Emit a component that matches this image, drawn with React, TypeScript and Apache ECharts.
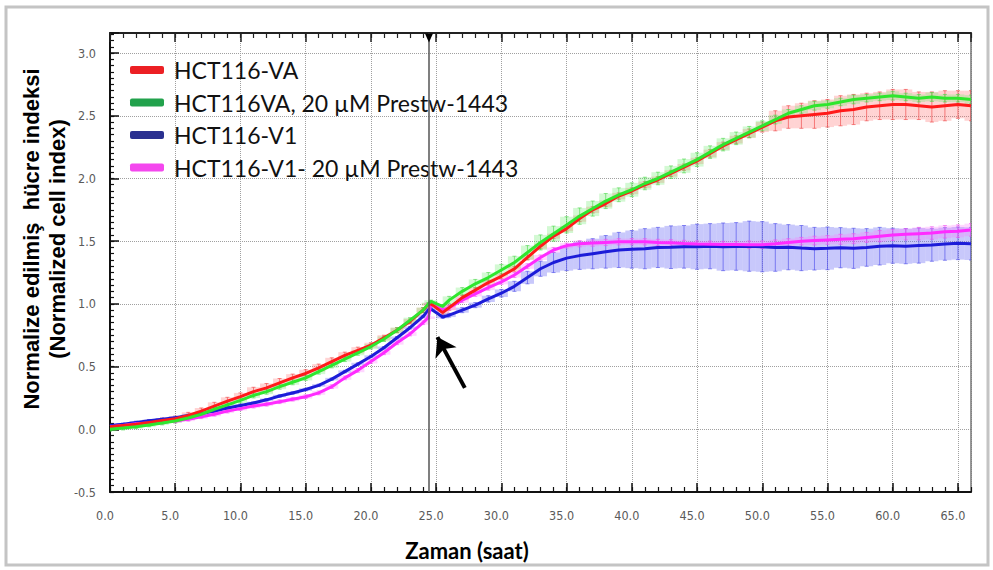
import React, { useEffect, useRef } from "react";
import * as echarts from "echarts";

// Time points (hours)
const TIMES = [
  0, 1, 2, 3, 4, 5, 6, 7, 8, 9,
  10, 11, 12, 13, 14, 15, 16, 17, 18, 19,
  20, 21, 22, 23, 24,
  24.4, 24.6, 25.5,
  26, 27, 28, 29, 30, 31, 32, 33, 34, 35,
  36, 37, 38, 39, 40, 41, 42, 43, 44, 45,
  46, 47, 48, 49, 50, 51, 52, 53, 54, 55,
  56, 57, 58, 59, 60, 61, 62, 63, 64, 65, 66,
];

// HCT116-VA (red)
const VA = [
  0.02, 0.03, 0.04, 0.055, 0.07, 0.085, 0.11, 0.145, 0.185, 0.225,
  0.26, 0.3, 0.33, 0.37, 0.41, 0.445, 0.49, 0.54, 0.59, 0.63,
  0.67, 0.73, 0.79, 0.86, 0.95,
  0.995, 1.0, 0.93,
  0.97, 1.05, 1.11, 1.17, 1.22, 1.28, 1.37, 1.46, 1.54, 1.6,
  1.68, 1.75, 1.8, 1.86, 1.9, 1.95, 1.99, 2.04, 2.09, 2.14,
  2.2, 2.26, 2.31, 2.36, 2.41, 2.46, 2.49, 2.5, 2.51, 2.52,
  2.54, 2.55, 2.57, 2.58, 2.59, 2.59, 2.58, 2.57, 2.58, 2.59, 2.58,
];
// HCT116VA, 20 µM Prestw-1443 (green)
const VA_DRUG = [
  0.0, 0.01, 0.02, 0.035, 0.05, 0.066, 0.09, 0.12, 0.16, 0.195,
  0.23, 0.27, 0.3, 0.34, 0.375, 0.41, 0.46, 0.51, 0.56, 0.61,
  0.66, 0.72, 0.79, 0.87, 0.95,
  1.0, 1.02, 0.98,
  1.03, 1.1, 1.16, 1.21, 1.27, 1.33, 1.41, 1.49, 1.56, 1.63,
  1.7, 1.76, 1.82, 1.87, 1.91, 1.96, 2.0, 2.05, 2.1, 2.15,
  2.21, 2.27, 2.32, 2.37, 2.42, 2.47, 2.52, 2.55, 2.58, 2.59,
  2.61, 2.63, 2.64, 2.65, 2.66, 2.65, 2.64, 2.65, 2.64, 2.64, 2.63,
];
// HCT116-V1 (blue)
const V1 = [
  0.03, 0.04, 0.055, 0.068, 0.08, 0.093, 0.11, 0.125, 0.145, 0.17,
  0.19, 0.21, 0.235, 0.265, 0.29, 0.317, 0.35, 0.4, 0.46, 0.52,
  0.58, 0.65, 0.73, 0.81, 0.9,
  0.95, 0.96, 0.895,
  0.91, 0.95, 0.99, 1.04, 1.085, 1.14, 1.21, 1.28, 1.33, 1.365,
  1.385, 1.4, 1.415, 1.43, 1.435, 1.44, 1.45, 1.452, 1.455, 1.456,
  1.46, 1.455, 1.458, 1.46, 1.456, 1.45, 1.452, 1.445, 1.44, 1.443,
  1.448, 1.443, 1.45, 1.46, 1.464, 1.46, 1.465, 1.47, 1.478, 1.483, 1.48,
];
// HCT116-V1- 20 µM Prestw-1443 (magenta)
const V1_DRUG = [
  0.02, 0.03, 0.045, 0.05, 0.058, 0.066, 0.08, 0.1, 0.12, 0.145,
  0.165, 0.185, 0.2, 0.22, 0.24, 0.26, 0.29, 0.34, 0.41, 0.47,
  0.54, 0.61, 0.69, 0.76, 0.85,
  0.89, 1.0, 0.95,
  0.97, 1.03, 1.08, 1.13, 1.176, 1.23, 1.3, 1.37, 1.43, 1.465,
  1.48, 1.485, 1.49, 1.495, 1.496, 1.495, 1.49, 1.487, 1.482, 1.478,
  1.476, 1.474, 1.473, 1.472, 1.472, 1.48, 1.49, 1.5, 1.505, 1.51,
  1.515, 1.52, 1.53, 1.54, 1.55, 1.555, 1.56, 1.565, 1.575, 1.58, 1.59,
];

// Error bar half-widths
const VA_ERR = [
  0.015, 0.015, 0.015, 0.02, 0.02, 0.02, 0.025, 0.025, 0.03, 0.03,
  0.03, 0.035, 0.035, 0.035, 0.03, 0.03, 0.03, 0.03, 0.025, 0.025,
  0.02, 0.02, 0.02, 0.02, 0.02,
  0.01, 0.01, 0.015,
  0.02, 0.02, 0.02, 0.02, 0.02, 0.02, 0.02, 0.02, 0.02, 0.02,
  0.025, 0.025, 0.025, 0.025, 0.025, 0.025, 0.025, 0.025, 0.025, 0.025,
  0.03, 0.03, 0.03, 0.035, 0.04, 0.08, 0.09, 0.1, 0.11, 0.11,
  0.12, 0.12, 0.11, 0.11, 0.12, 0.12, 0.11, 0.12, 0.12, 0.11, 0.12,
];
const VA_DRUG_ERR = [
  0.015, 0.015, 0.015, 0.015, 0.015, 0.015, 0.015, 0.015, 0.015, 0.015,
  0.02, 0.02, 0.02, 0.02, 0.02, 0.02, 0.02, 0.02, 0.02, 0.02,
  0.02, 0.02, 0.02, 0.02, 0.02,
  0.01, 0.01, 0.015,
  0.03, 0.03, 0.035, 0.04, 0.045, 0.05, 0.055, 0.06, 0.06, 0.065,
  0.065, 0.06, 0.06, 0.055, 0.055, 0.05, 0.05, 0.05, 0.055, 0.055,
  0.05, 0.05, 0.05, 0.045, 0.04, 0.035, 0.03, 0.03, 0.035, 0.03,
  0.03, 0.035, 0.03, 0.03, 0.035, 0.03, 0.03, 0.035, 0.03, 0.03, 0.035,
];
const V1_ERR = [
  0.01, 0.01, 0.01, 0.01, 0.01, 0.01, 0.01, 0.01, 0.01, 0.01,
  0.01, 0.01, 0.01, 0.01, 0.01, 0.01, 0.01, 0.01, 0.01, 0.01,
  0.01, 0.01, 0.01, 0.01, 0.01,
  0.01, 0.01, 0.01,
  0.015, 0.02, 0.02, 0.025, 0.03, 0.04, 0.05, 0.06, 0.08, 0.1,
  0.11, 0.12, 0.13, 0.14, 0.15, 0.16, 0.16, 0.17, 0.17, 0.18,
  0.18, 0.19, 0.19, 0.2, 0.2, 0.19, 0.18, 0.18, 0.17, 0.17,
  0.16, 0.16, 0.15, 0.15, 0.14, 0.14, 0.14, 0.13, 0.13, 0.13, 0.13,
];
const V1_DRUG_ERR = [
  0.015, 0.015, 0.015, 0.015, 0.015, 0.015, 0.015, 0.015, 0.015, 0.015,
  0.015, 0.015, 0.015, 0.015, 0.015, 0.015, 0.015, 0.015, 0.015, 0.015,
  0.015, 0.015, 0.015, 0.015, 0.015,
  0.01, 0.01, 0.015,
  0.02, 0.02, 0.02, 0.02, 0.02, 0.02, 0.02, 0.02, 0.02, 0.02,
  0.025, 0.025, 0.025, 0.025, 0.025, 0.025, 0.025, 0.025, 0.025, 0.025,
  0.025, 0.025, 0.025, 0.03, 0.03, 0.03, 0.03, 0.03, 0.035, 0.035,
  0.04, 0.04, 0.04, 0.045, 0.045, 0.045, 0.05, 0.05, 0.05, 0.05, 0.05,
];

const SERIES_NAMES = [
  "HCT116-VA",
  "HCT116VA, 20 µM Prestw-1443",
  "HCT116-V1",
  "HCT116-V1- 20 µM Prestw-1443",
];
const SERIES_VALUES = [VA, VA_DRUG, V1, V1_DRUG];
const SERIES_ERRS = [VA_ERR, VA_DRUG_ERR, V1_ERR, V1_DRUG_ERR];
const LINE_COLORS = ["#ff1a1a", "#2ee62e", "#1c1cd8", "#ff2bff"];
const LEGEND_COLORS = ["#ec2024", "#22a24c", "#2a3090", "#f447ee"];
const ERR_FILL = [
  "rgba(255,110,110,0.30)",
  "rgba(110,235,110,0.30)",
  "rgba(110,110,245,0.38)",
  "rgba(255,120,255,0.30)",
];
const ERR_STROKE = [
  "rgba(240,70,70,0.65)",
  "rgba(70,215,70,0.6)",
  "rgba(80,80,235,0.65)",
  "rgba(240,80,240,0.6)",
];

const VLINE_TIME = 24.45;
const ARROW_FROM = [27.2, 0.33];
const ARROW_TO = [25.1, 0.735];

const TICK_FONT = "'Liberation Sans Narrow', 'DejaVu Sans Condensed', 'Liberation Sans', sans-serif";

function isMultiple(v: number, step: number) {
  return Math.abs(v / step - Math.round(v / step)) < 1e-6;
}

function makeErrSeries(idx: number) {
  const values = SERIES_VALUES[idx];
  const errs = SERIES_ERRS[idx];
  const fill = ERR_FILL[idx];
  const stroke = ERR_STROKE[idx];
  return {
    type: "custom",
    silent: true,
    clip: true,
    z: 2,
    xAxisIndex: 0,
    yAxisIndex: 0,
    data: TIMES.map((t, i) => [t, values[i], errs[i]]),
    encode: { x: 0, y: 1 },
    renderItem: (params: any, api: any) => {
      const t = api.value(0);
      const v = api.value(1);
      const e = api.value(2);
      const top = api.coord([t, v + e]);
      const bot = api.coord([t, v - e]);
      const w = api.size([1, 0])[0];
      return {
        type: "group",
        children: [
          {
            type: "rect",
            shape: { x: top[0] - w / 2, y: top[1], width: w, height: bot[1] - top[1] },
            style: { fill },
          },
          {
            type: "line",
            shape: { x1: top[0], y1: top[1], x2: top[0], y2: bot[1] },
            style: { stroke, lineWidth: 1 },
          },
          {
            type: "line",
            shape: { x1: top[0] - 2, y1: top[1], x2: top[0] + 2, y2: top[1] },
            style: { stroke, lineWidth: 1 },
          },
          {
            type: "line",
            shape: { x1: top[0] - 2, y1: bot[1], x2: top[0] + 2, y2: bot[1] },
            style: { stroke, lineWidth: 1 },
          },
        ],
      };
    },
  };
}

function makeLineSeries(idx: number, extra: any = {}) {
  const values = SERIES_VALUES[idx];
  return {
    type: "line",
    name: SERIES_NAMES[idx],
    xAxisIndex: 0,
    yAxisIndex: 0,
    data: TIMES.map((t, i) => [t, values[i]]),
    showSymbol: false,
    symbol: "none",
    z: 3,
    lineStyle: { color: LINE_COLORS[idx], width: 3 },
    itemStyle: { color: LINE_COLORS[idx] },
    ...extra,
  };
}

export default function App() {
  const ref = useRef<HTMLDivElement>(null);

  useEffect(() => {
    if (!ref.current) return;
    const chart = echarts.init(ref.current, undefined, { renderer: "svg" });

    const gridSplit = { show: true, lineStyle: { color: "#a0a0a0", type: "dotted", width: 1 } };

    const option: any = {
      animation: false,
      backgroundColor: "#ffffff",
      grid: { left: 110, right: 22, top: 33, bottom: 78, containLabel: false },
      legend: {
        orient: "vertical",
        left: 125,
        top: 53,
        itemWidth: 34,
        itemHeight: 8,
        itemGap: 8.5,
        selectedMode: false,
        icon: "roundRect",
        textStyle: {
          fontFamily: "Lato, 'Open Sans', sans-serif",
          fontSize: 23,
          lineHeight: 24,
          color: "#111",
          padding: [0, 0, 0, 5],
        },
        data: SERIES_NAMES.map((n, i) => ({
          name: n,
          itemStyle: { color: LEGEND_COLORS[i] },
        })),
      },
      xAxis: [
        {
          type: "value",
          position: "bottom",
          min: 0,
          max: 66,
          interval: 5,
          axisLine: { show: true, onZero: false, lineStyle: { color: "#111", width: 2 } },
          axisTick: { show: true, inside: true, length: 9, lineStyle: { color: "#111", width: 1.5 } },
          axisLabel: {
            margin: 17,
            color: "#5a5a5a",
            fontSize: 12.5,
            fontFamily: TICK_FONT,
            showMaxLabel: false,
            padding: [0, 10, 0, 0],
            formatter: (v: number) => (isMultiple(v, 5) ? v.toFixed(1) : ""),
          },
          splitLine: gridSplit,
        },
        {
          type: "value",
          position: "bottom",
          min: 0,
          max: 66,
          interval: 1,
          axisLine: { show: false, onZero: false },
          axisTick: { show: true, inside: true, length: 5, lineStyle: { color: "#111", width: 1.2 } },
          axisLabel: { show: false },
          splitLine: { show: false },
        },
        {
          type: "value",
          position: "top",
          min: 0,
          max: 66,
          interval: 5,
          axisLine: { show: true, onZero: false, lineStyle: { color: "#222", width: 2 } },
          axisTick: { show: true, inside: true, length: 9, lineStyle: { color: "#222", width: 1.5 } },
          axisLabel: { show: false },
          splitLine: { show: false },
        },
        {
          type: "value",
          position: "top",
          min: 0,
          max: 66,
          interval: 1,
          axisLine: { show: false, onZero: false },
          axisTick: { show: true, inside: true, length: 5, lineStyle: { color: "#222", width: 1.2 } },
          axisLabel: { show: false },
          splitLine: { show: false },
        },
      ],
      yAxis: [
        {
          type: "value",
          position: "left",
          min: -0.5,
          max: 3.16,
          interval: 0.5,
          axisLine: { show: true, onZero: false, lineStyle: { color: "#111", width: 2 } },
          axisTick: { show: true, inside: true, length: 9, lineStyle: { color: "#111", width: 1.5 } },
          axisLabel: {
            margin: 14,
            color: "#5a5a5a",
            fontSize: 12.5,
            fontFamily: TICK_FONT,
            formatter: (v: number) => (isMultiple(v, 0.5) ? v.toFixed(1) : ""),
          },
          splitLine: gridSplit,
        },
        {
          type: "value",
          position: "left",
          min: -0.5,
          max: 3.16,
          interval: 0.05,
          axisLine: { show: false, onZero: false },
          axisTick: { show: true, inside: true, length: 4, lineStyle: { color: "#111", width: 1.2 } },
          axisLabel: { show: false },
          splitLine: { show: false },
        },
        {
          type: "value",
          position: "right",
          min: -0.5,
          max: 3.16,
          interval: 0.5,
          axisLine: { show: true, onZero: false, lineStyle: { color: "#777", width: 1.5 } },
          axisTick: { show: false },
          axisLabel: { show: false },
          splitLine: { show: false },
        },
      ],
      series: [
        makeErrSeries(0),
        makeErrSeries(1),
        makeErrSeries(2),
        makeErrSeries(3),
        makeLineSeries(2, {
          markLine: {
            silent: true,
            symbol: ["none", "none"],
            label: { show: false },
            lineStyle: { color: "#555", width: 1.5, type: "solid" },
            data: [{ xAxis: VLINE_TIME }],
          },
        }),
        makeLineSeries(3),
        makeLineSeries(0),
        makeLineSeries(1, {
          markLine: {
            silent: true,
            label: { show: false },
            symbolSize: 18,
            lineStyle: { color: "#000", width: 4, type: "solid" },
            data: [
              [
                { coord: ARROW_FROM, symbol: "none" },
                { coord: ARROW_TO, symbol: "arrow" },
              ],
            ],
          },
          markPoint: {
            silent: true,
            label: { show: false },
            data: [
              {
                coord: [VLINE_TIME, 3.16],
                symbol: "triangle",
                symbolRotate: 180,
                symbolSize: [8, 9],
                symbolOffset: [0, 5],
                itemStyle: { color: "#000" },
              },
            ],
          },
        }),
      ],
      graphic: [
        {
          type: "rect",
          silent: true,
          shape: { x: 6, y: 7, width: 982, height: 558 },
          style: { fill: "none", stroke: "#c4c4c4", lineWidth: 3 },
        },
        {
          type: "text",
          silent: true,
          x: 31,
          y: 239,
          rotation: Math.PI / 2,
          style: {
            text: "Normalize edilmiş  hücre indeksi",
            fontFamily: "'Liberation Sans', Arial, sans-serif",
            fontWeight: "bold",
            fontSize: 22,
            fill: "#000",
            align: "center",
            verticalAlign: "middle",
          },
        },
        {
          type: "text",
          silent: true,
          x: 57,
          y: 239,
          rotation: Math.PI / 2,
          style: {
            text: "(Normalized cell index)",
            fontFamily: "'Liberation Sans', Arial, sans-serif",
            fontWeight: "bold",
            fontSize: 22,
            fill: "#000",
            align: "center",
            verticalAlign: "middle",
          },
        },
        {
          type: "text",
          silent: true,
          x: 467,
          y: 550,
          style: {
            text: "Zaman (saat)",
            fontFamily: "Lato, 'Open Sans', sans-serif",
            fontWeight: "bold",
            fontSize: 22,
            fill: "#000",
            align: "center",
            verticalAlign: "middle",
          },
        },
      ],
    };

    chart.setOption(option);
    return () => {
      chart.dispose();
    };
  }, []);

  return (
    <div
      ref={ref}
      style={{ position: "fixed", left: 0, top: 0, width: 993, height: 570, background: "#fff" }}
    />
  );
}
